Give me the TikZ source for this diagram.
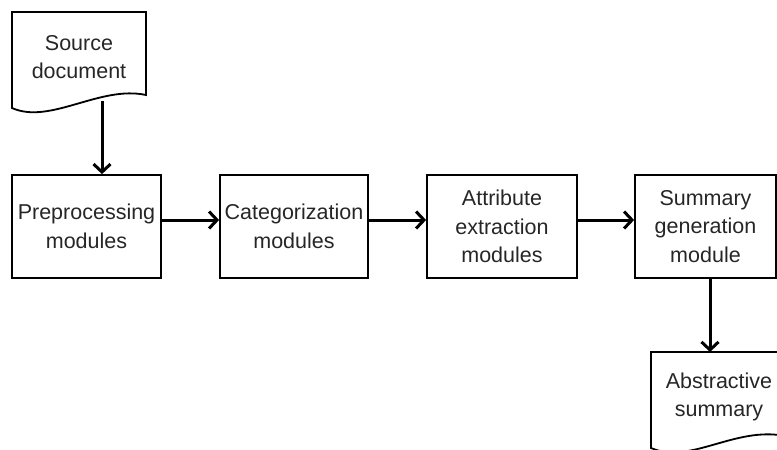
\documentclass[tikz,border=0pt]{standalone}
\usepackage{fontspec}
\setmainfont{Liberation Sans}
\usetikzlibrary{arrows.meta}
\begin{document}
\begin{tikzpicture}[x=1pt,y=-1pt,
  box/.style={draw, line width=1.8pt, minimum height=103pt, inner sep=0pt},
  txt/.style={align=center, font=\fontsize{21.5}{28.5}\selectfont, inner sep=0pt, text=black!85},
  arr/.style={line width=3pt, -{Straight Barb[length=8pt,width=17pt]}}]
\useasboundingbox (0,0) rectangle (777,450);
\clip (0,0) rectangle (777,450);
% source document
\draw[line width=1.8pt] (12,12) -- (146,12) -- (146,95)
  .. controls (100,85) and (50,125) .. (12,108) -- cycle;
\node[txt] (src) at (79,57) {Source\\document};
\coordinate (srcb) at (102,101);
% process boxes
\node[box, txt, minimum width=149pt] (pre) at (86.5,226.5) {Preprocessing\\modules};
\node[box, txt, minimum width=148pt] (cat) at (294,226.5) {Categorization\\modules};
\node[box, txt, minimum width=150pt] (att) at (502,226.5) {Attribute\\extraction\\modules};
\node[box, txt, minimum width=141pt] (sum) at (705.5,226.5) {Summary\\generation\\module};
% abstractive summary document
\draw[line width=1.8pt] (651,352) -- (785,352) -- (785,436)
  .. controls (735,426) and (690,465) .. (651,448) -- cycle;
\node[txt] (abs) at (719,397) {Abstractive\\summary};
\coordinate (absT) at (710,352);
% connectors
\draw[arr] (srcb) -- (srcb |- pre.north);
\draw[arr] ([yshift=6.5pt]pre.east) -- ([yshift=6.5pt]cat.west);
\draw[arr] ([yshift=6.5pt]cat.east) -- ([yshift=6.5pt]att.west);
\draw[arr] ([yshift=6.5pt]att.east) -- ([yshift=6.5pt]sum.west);
\draw[arr] (absT |- sum.south) -- (absT);
\end{tikzpicture}
\end{document}
